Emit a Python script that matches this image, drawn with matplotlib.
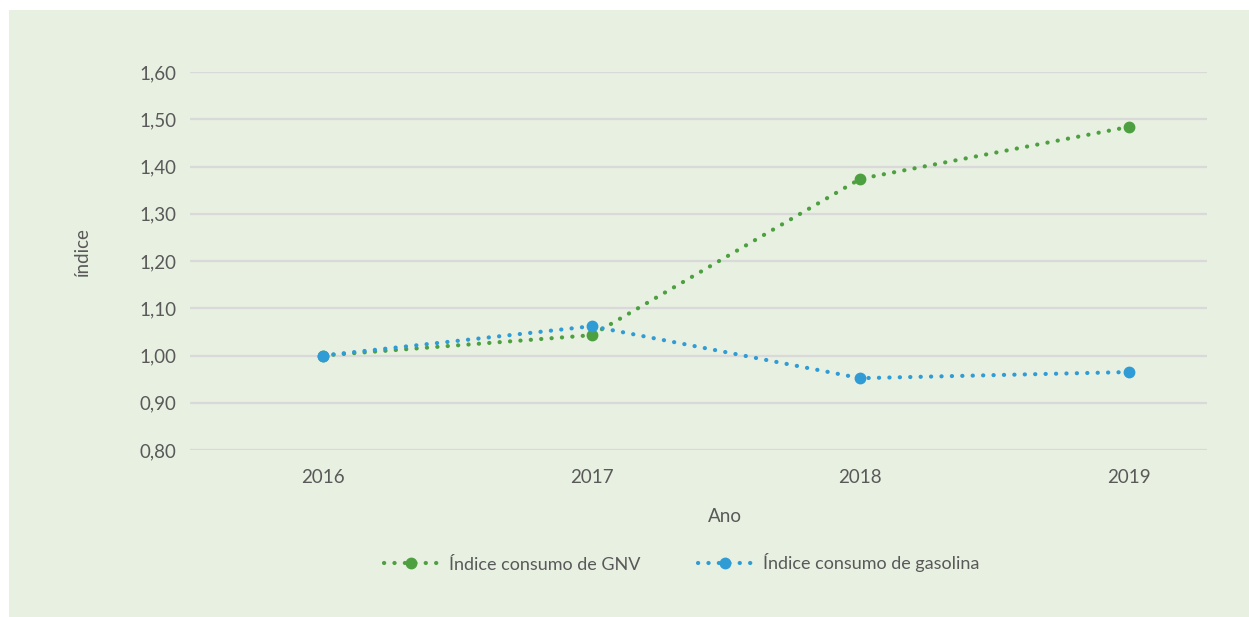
import matplotlib.pyplot as plt
from matplotlib.patches import Rectangle
from matplotlib.ticker import FuncFormatter

anos = ['2016', '2017', '2018', '2019']
gnv = [1.00, 1.043, 1.374, 1.484]
gasolina = [1.00, 1.062, 0.952, 0.965]
yticks = [0.80, 0.90, 1.00, 1.10, 1.20, 1.30, 1.40, 1.50, 1.60]

plt.rcParams['font.family'] = ['Lato', 'DejaVu Sans']
bg = '#E8F0E1'
txt = '#595959'

fig = plt.figure(figsize=(12.49, 6.17), dpi=100)
fig.patches.append(Rectangle((9 / 1249, 0), 1 - 9 / 1249, 1 - 10 / 617,
                             transform=fig.transFigure, facecolor=bg,
                             edgecolor='none', zorder=-10))

ax = fig.add_axes([190 / 1249, 167 / 617, 1017 / 1249, 378 / 617])
ax.set_facecolor('none')

x = list(range(len(anos)))
dots = (0, (0.05, 2.45))
ax.plot(x, gnv, color='#4DA040', lw=3, ls=dots, dash_capstyle='round',
        marker='o', ms=7.5, label='Índice consumo de GNV')
ax.plot(x, gasolina, color='#2F9CD6', lw=3, ls=dots, dash_capstyle='round',
        marker='o', ms=7.5, label='Índice consumo de gasolina')

ax.set_ylim(0.80, 1.60)
ax.set_xlim(-0.495, 3.29)
ax.set_yticks(yticks)
ax.yaxis.set_major_formatter(FuncFormatter(lambda v, p: f'{v:.2f}'.replace('.', ',')))
ax.set_xticks(x)
ax.set_xticklabels(anos)
ax.grid(axis='y', color='#D9D9D9', lw=1.6)
ax.set_axisbelow(True)
for s in ax.spines.values():
    s.set_visible(False)
ax.tick_params(length=0, colors=txt, labelsize=13.5, pad=10)
ax.tick_params(axis='x', pad=14)

fig.text(725 / 1249, 1 - 517 / 617, 'Ano', ha='center', va='center', fontsize=13.5, color=txt)
fig.text(82 / 1249, 1 - 252 / 617, 'índice', ha='center', va='center', rotation=90,
         fontsize=13.5, color=txt)

ax.legend(loc='center', bbox_to_anchor=(682 / 1249, 1 - 563 / 617),
          bbox_transform=fig.transFigure, ncol=2, frameon=False, fontsize=13,
          labelcolor=txt, handlelength=3.0, columnspacing=3.2, handletextpad=0.6)

fig.savefig('out.png', dpi=100)
